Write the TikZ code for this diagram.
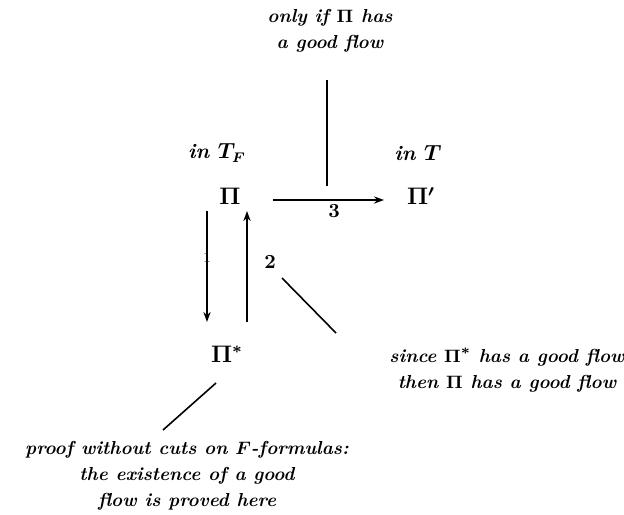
\documentclass[tikz,border=0pt]{standalone}
\usetikzlibrary{arrows.meta}
\begin{document}
\begin{tikzpicture}[x=0.5pt,y=-0.5pt,
  txt/.style={font=\fontsize{9.4}{13}\selectfont\bfseries\itshape\boldmath, align=center, inner sep=0pt},
  obj/.style={font=\fontsize{11.5}{13}\selectfont\bfseries\boldmath, inner sep=1pt},
  arr/.style={line width=0.8pt, -{Stealth[length=5pt,width=3.6pt]}},
  ln/.style={line width=0.8pt}]
\useasboundingbox (0,0) rectangle (624,514);
\node[txt] (top) at (330,31) {only if $\mathbf{\Pi}$ has\\a good flow};
\node[txt, font=\fontsize{10.5}{13}\selectfont\bfseries\itshape\boldmath] (tf) at (217,153) {in $T_F$};
\node[txt, font=\fontsize{10.5}{13}\selectfont\bfseries\itshape\boldmath] (tt) at (418,153) {in $T$};
\node[obj] (P) at (230,196) {$\mathbf{\Pi}$};
\node[obj] (Pp) at (421,196) {$\mathbf{\Pi}'$};
\node[obj] (Ps) at (227,354) {$\mathbf{\Pi}^{*}$};
\node[txt] (since) at (507,370) {since $\mathbf{\Pi}^{*}$ has a good flow\\then $\mathbf{\Pi}$ has a good flow};
\node[txt] (proof) at (187,476) {proof without cuts on $F$-formulas:\\the existence of a good\\flow is proved here};
\coordinate (a1) at (273,200);
\coordinate (a2) at (384,200);
\coordinate (d1) at (207,211);
\coordinate (d2) at (207,322);
\coordinate (u1) at (247,322);
\coordinate (u2) at (247,211);
\draw[arr] (a1) -- (a2) node[obj, pos=0.55, below=1pt, font=\fontsize{10}{12}\selectfont\bfseries] (n3) {3};
\draw[arr] (d1) -- (d2) node[obj, pos=0.42, inner sep=0pt, font=\fontsize{7}{8}\selectfont] (n1) {1};
\draw[arr] (u1) -- (u2);
\node[obj, font=\fontsize{10}{12}\selectfont\bfseries] (n2) at (270,262) {2};
\coordinate (t1) at (327,80);
\coordinate (t2) at (327,186);
\draw[ln] (t1) -- (t2);
\coordinate (s1) at (282,278);
\coordinate (s2) at (336,333);
\draw[ln] (s1) -- (s2);
\coordinate (p1) at (216,383);
\coordinate (p2) at (163,430);
\draw[ln] (p1) -- (p2);
\end{tikzpicture}
\end{document}
